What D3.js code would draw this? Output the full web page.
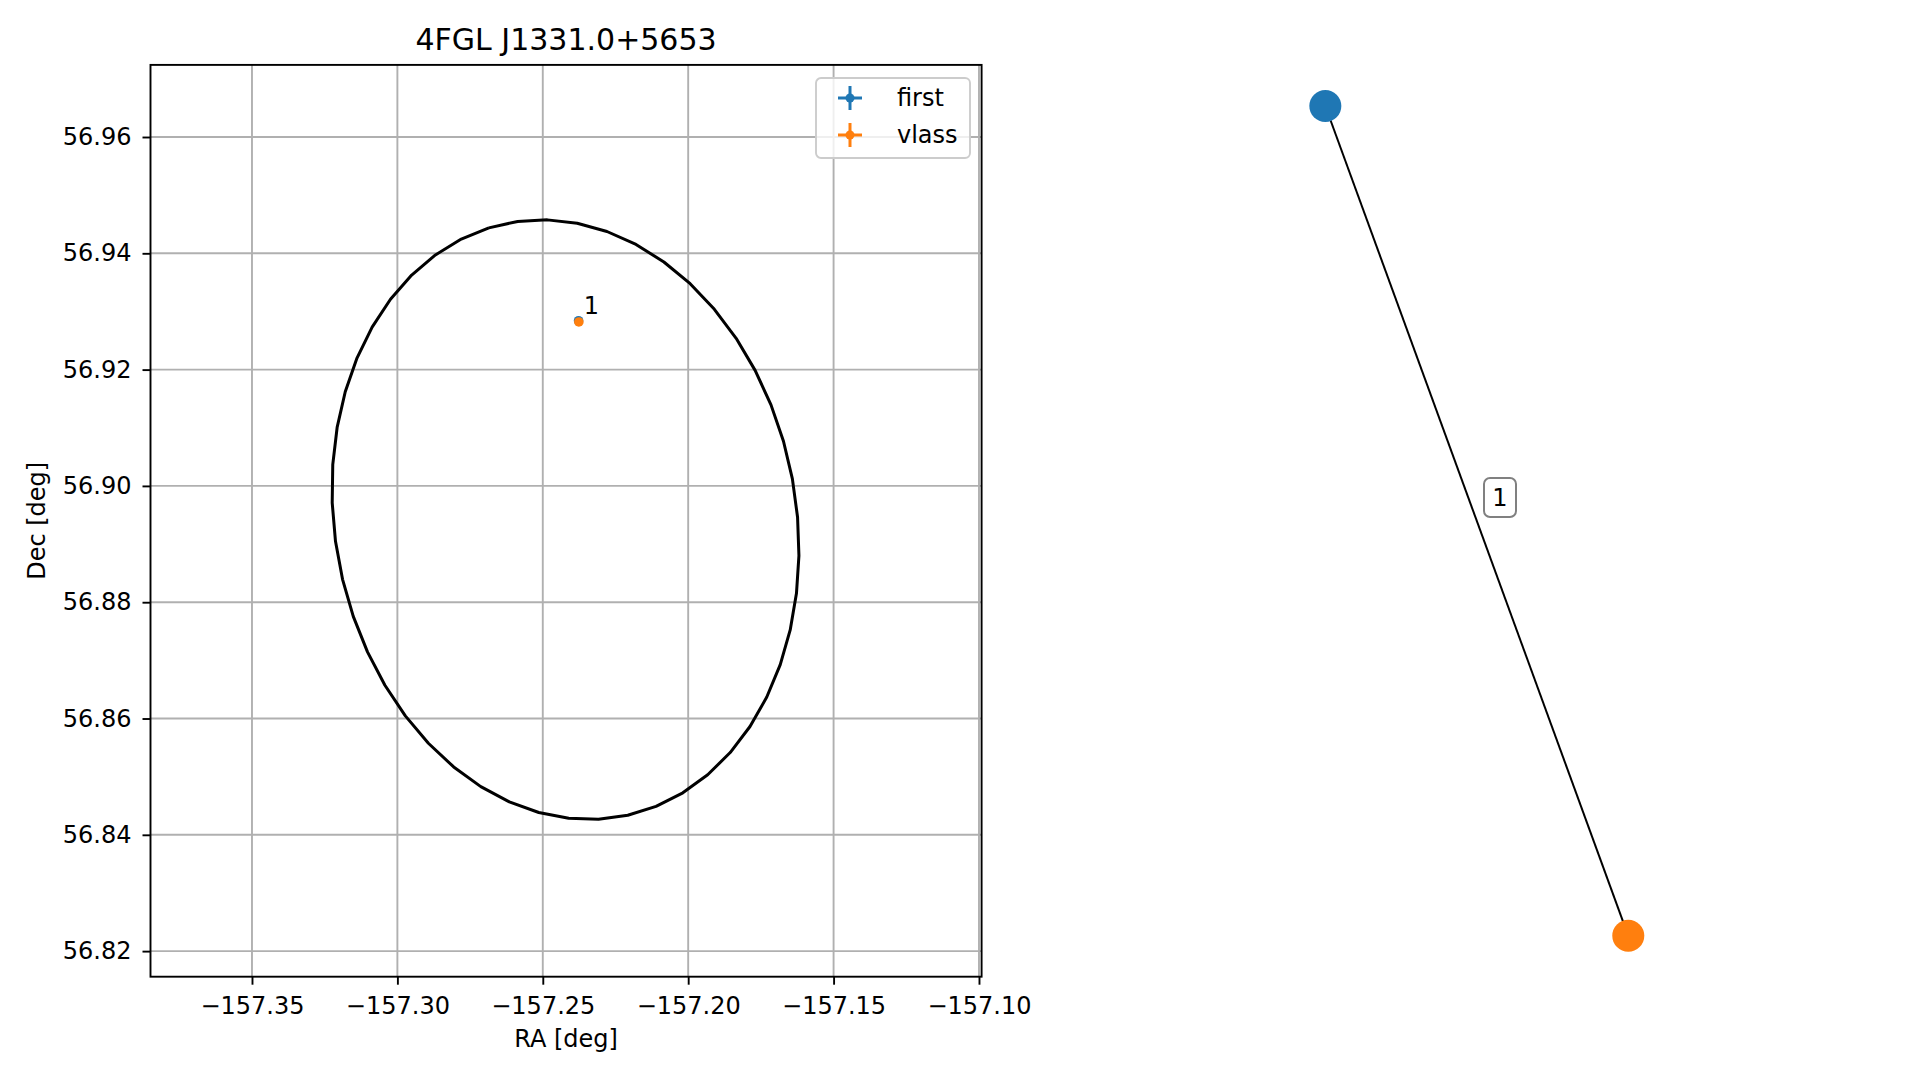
<!DOCTYPE html>
<html>
<head>
<meta charset="utf-8">
<script src="https://cdn.jsdelivr.net/npm/d3@7"></script>
<style>
  body { margin: 0; background: white; }
  text { font-family: "DejaVu Sans", sans-serif; fill: black; }
</style>
</head>
<body>
<div id="chart"></div>
<script>
// sources in the field (RA shifted by -360)
var srcNames = ["first", "vlass"];
var srcColors = ["#1f77b4", "#ff7f0e"];
var srcRA = [-157.2377, -157.2376];
var srcDec = [56.9284, 56.9282];
var srcErrRA = [0.0002, 0.0002];
var srcErrDec = [0.0001, 0.0001];
var matchLabels = ["1"];

// 95% error ellipse of the 4FGL source
var ellCenter = [-157.2422, 56.8942];
var ellSemiMajor = 0.0522;
var ellSemiMinor = 0.0431;
var ellPosAngle = -16;
var ellPoints = 50;

var xTicks = [-157.35, -157.30, -157.25, -157.20, -157.15, -157.10];
var yTicks = [56.82, 56.84, 56.86, 56.88, 56.90, 56.92, 56.94, 56.96];

// graph of matches
var nodeNames = ["first", "vlass"];
var nodeX = [-0.365, 0.365];
var nodeY = [1.0, -1.0];
var edgeLabels = ["1"];

var width = 1919, height = 1080;
var svg = d3.select("#chart").append("svg")
    .attr("width", width)
    .attr("height", height);

var pLeft = 150.5, pRight = 981.6, pTop = 64.9, pBottom = 976.7;

var x = d3.scaleLinear().domain([-157.3849, -157.0991]).range([pLeft, pRight]);
var y = d3.scaleLinear().domain([56.8156, 56.9724]).range([pBottom, pTop]);

var plot = svg.append("g").attr("class", "plot");

// grid
plot.append("g")
    .selectAll("line")
    .data(xTicks)
    .enter()
    .append("line")
    .attr("x1", function (d) { return x(d); })
    .attr("x2", function (d) { return x(d); })
    .attr("y1", pTop)
    .attr("y2", pBottom)
    .style("stroke", "#b0b0b0")
    .style("stroke-width", 1.9);

plot.append("g")
    .selectAll("line")
    .data(yTicks)
    .enter()
    .append("line")
    .attr("y1", function (d) { return y(d); })
    .attr("y2", function (d) { return y(d); })
    .attr("x1", pLeft)
    .attr("x2", pRight)
    .style("stroke", "#b0b0b0")
    .style("stroke-width", 1.9);

// ellipse
var cosDec = Math.cos(ellCenter[1] * Math.PI / 180);
var pa = ellPosAngle * Math.PI / 180;
var ellipse = d3.range(ellPoints).map(function (i) {
    var t = 2 * Math.PI * i / (ellPoints - 1);
    var u = ellSemiMajor * Math.cos(t) * Math.sin(pa) + ellSemiMinor * Math.sin(t) * Math.cos(pa);
    var v = ellSemiMajor * Math.cos(t) * Math.cos(pa) - ellSemiMinor * Math.sin(t) * Math.sin(pa);
    return [ellCenter[0] + u / cosDec, ellCenter[1] + v];
});

var line = d3.line()
    .x(function (d) { return x(d[0]); })
    .y(function (d) { return y(d[1]); });

plot.append("path")
    .attr("d", line(ellipse))
    .style("fill", "none")
    .style("stroke", "black")
    .style("stroke-width", 3)
    .style("stroke-linejoin", "round");

// sources with error bars
var sources = srcNames.map(function (n, i) {
    return {name: n, color: srcColors[i], ra: srcRA[i], dec: srcDec[i], era: srcErrRA[i], edec: srcErrDec[i]};
});

var pts = plot.append("g")
    .selectAll("g")
    .data(sources)
    .enter()
    .append("g");

pts.append("line")
    .attr("x1", function (d) { return x(d.ra - d.era); })
    .attr("x2", function (d) { return x(d.ra + d.era); })
    .attr("y1", function (d) { return y(d.dec); })
    .attr("y2", function (d) { return y(d.dec); })
    .style("stroke", function (d) { return d.color; })
    .style("stroke-width", 3);

pts.append("line")
    .attr("x1", function (d) { return x(d.ra); })
    .attr("x2", function (d) { return x(d.ra); })
    .attr("y1", function (d) { return y(d.dec - d.edec); })
    .attr("y2", function (d) { return y(d.dec + d.edec); })
    .style("stroke", function (d) { return d.color; })
    .style("stroke-width", 3);

pts.append("circle")
    .attr("cx", function (d) { return x(d.ra); })
    .attr("cy", function (d) { return y(d.dec); })
    .attr("r", 4.8)
    .style("fill", function (d) { return d.color; });

plot.append("text")
    .attr("x", x(srcRA[1]) + 5)
    .attr("y", y(srcDec[1]) - 8)
    .style("font-size", "24px")
    .text(matchLabels[0]);

// spines
plot.append("rect")
    .attr("x", pLeft)
    .attr("y", pTop)
    .attr("width", pRight - pLeft)
    .attr("height", pBottom - pTop)
    .style("fill", "none")
    .style("stroke", "black")
    .style("stroke-width", 1.9);

// axes
var xAxis = d3.axisBottom(x)
    .tickValues(xTicks)
    .tickSizeInner(8)
    .tickSizeOuter(0)
    .tickPadding(12)
    .tickFormat(function (d) { return "\u2212" + Math.abs(d).toFixed(2); });

var gx = plot.append("g")
    .attr("transform", "translate(0," + pBottom + ")")
    .call(xAxis);

var yAxis = d3.axisLeft(y)
    .tickValues(yTicks)
    .tickSizeInner(8)
    .tickSizeOuter(0)
    .tickPadding(11)
    .tickFormat(d3.format(".2f"));

var gy = plot.append("g")
    .attr("transform", "translate(" + pLeft + ",0)")
    .call(yAxis);

[gx, gy].forEach(function (g) {
    g.select(".domain").remove();
    g.selectAll(".tick line").style("stroke", "black").style("stroke-width", 1.9);
    g.selectAll(".tick text")
     .style("font-size", "24px")
     .style("font-family", "DejaVu Sans, sans-serif")
     .attr("fill", "black");
});

// titles
svg.append("text")
    .attr("x", (pLeft + pRight) / 2)
    .attr("y", 50)
    .style("text-anchor", "middle")
    .style("font-size", "30px")
    .text("4FGL J1331.0+5653");

svg.append("text")
    .attr("x", (pLeft + pRight) / 2)
    .attr("y", 1047)
    .style("text-anchor", "middle")
    .style("font-size", "24px")
    .text("RA [deg]");

svg.append("text")
    .attr("transform", "translate(45," + ((pTop + pBottom) / 2) + ") rotate(-90)")
    .style("text-anchor", "middle")
    .style("font-size", "24px")
    .text("Dec [deg]");

// legend
var legend = svg.append("g").attr("transform", "translate(816,78)");

legend.append("rect")
    .attr("width", 154)
    .attr("height", 80)
    .attr("rx", 5)
    .style("fill", "white")
    .style("fill-opacity", 0.8)
    .style("stroke", "#cccccc")
    .style("stroke-width", 1.9);

var items = legend.selectAll("g.item")
    .data(sources)
    .enter()
    .append("g")
    .attr("class", "item")
    .attr("transform", function (d, i) { return "translate(34," + (20 + i * 37) + ")"; });

items.append("line")
    .attr("x1", -12).attr("x2", 12)
    .style("stroke", function (d) { return d.color; })
    .style("stroke-width", 3);

items.append("line")
    .attr("y1", -12).attr("y2", 12)
    .style("stroke", function (d) { return d.color; })
    .style("stroke-width", 3);

items.append("circle")
    .attr("r", 4.5)
    .style("fill", function (d) { return d.color; });

items.append("text")
    .attr("x", 47)
    .attr("dy", "0.35em")
    .style("font-size", "24px")
    .text(function (d) { return d.name; });

// network of matches
var gx2 = d3.scaleLinear().domain([-1, 1]).range([1476.8 - 415, 1476.8 + 415]);
var gy2 = d3.scaleLinear().domain([-1, 1]).range([935.8, 106]);

var nodes = nodeNames.map(function (n, i) {
    return {name: n, x: nodeX[i], y: nodeY[i], color: srcColors[i]};
});

var net = svg.append("g").attr("class", "network");

net.append("line")
    .attr("x1", gx2(nodes[0].x)).attr("y1", gy2(nodes[0].y))
    .attr("x2", gx2(nodes[1].x)).attr("y2", gy2(nodes[1].y))
    .style("stroke", "black")
    .style("stroke-width", 2);

net.selectAll("circle")
    .data(nodes)
    .enter()
    .append("circle")
    .attr("cx", function (d) { return gx2(d.x); })
    .attr("cy", function (d) { return gy2(d.y); })
    .attr("r", 16)
    .style("fill", function (d) { return d.color; });

var lab = net.append("g")
    .attr("transform", "translate(1500,497.5)");

lab.append("rect")
    .attr("x", -16).attr("y", -19.5)
    .attr("width", 32).attr("height", 39)
    .attr("rx", 6)
    .style("fill", "white")
    .style("stroke", "#808080")
    .style("stroke-width", 2);

lab.append("text")
    .attr("dy", "0.36em")
    .style("text-anchor", "middle")
    .style("font-size", "24px")
    .text(edgeLabels[0]);
</script>
</body>
</html>
